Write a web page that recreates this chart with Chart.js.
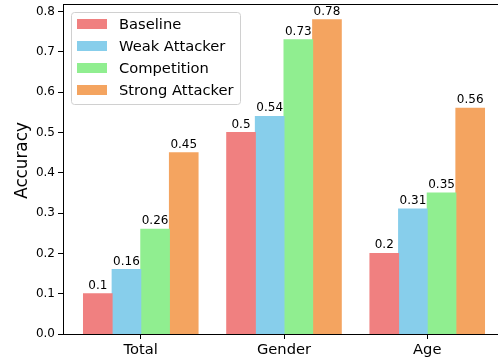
<!DOCTYPE html>
<html>
<head>
<meta charset="utf-8">
<script src="https://cdn.jsdelivr.net/npm/chart.js@4.4.1/dist/chart.umd.min.js"></script>
<style>
  html, body { margin: 0; padding: 0; background: #fff; }
  #wrap { width: 498px; height: 362px; overflow: hidden; position: relative; }
  #wrap canvas { display: block; }
</style>
</head>
<body>
<div id="wrap"><canvas id="c" width="506" height="362"></canvas></div>
<script>
// Accuracy per attribute group for each attack setting
const categories = ['Total', 'Gender', 'Age'];
const seriesNames = ['Baseline', 'Weak Attacker', 'Competition', 'Strong Attacker'];
const baseline = [0.1, 0.5, 0.2];
const weakAttacker = [0.16, 0.54, 0.31];
const competition = [0.26, 0.73, 0.35];
const strongAttacker = [0.45, 0.78, 0.56];
const yTicks = [0.0, 0.1, 0.2, 0.3, 0.4, 0.5, 0.6, 0.7, 0.8];
const seriesColors = ['#F08080', '#87CEEB', '#90EE90', '#F4A460'];

const FONT = "'DejaVu Sans', sans-serif";
const allSeries = [baseline, weakAttacker, competition, strongAttacker];

const datasets = allSeries.map((vals, i) => ({
  label: seriesNames[i],
  data: vals.map((v, k) => ({ x: k, y: v })),
  backgroundColor: seriesColors[i],
  borderWidth: 0,
  inflateAmount: 0.5,
  categoryPercentage: 0.8,
  barPercentage: 1.0
}));

// axes frame, value labels, legend and y title
const decorations = {
  id: 'decorations',
  afterDatasetsDraw(chart) {
    const ctx = chart.ctx;
    ctx.save();
    ctx.fillStyle = '#000';
    ctx.font = '12px ' + FONT;
    ctx.textAlign = 'center';
    ctx.textBaseline = 'alphabetic';
    chart.data.datasets.forEach((ds, di) => {
      const meta = chart.getDatasetMeta(di);
      meta.data.forEach((el, k) => {
        ctx.fillText(String(allSeries[di][k]), el.x, el.y - 5);
      });
    });
    ctx.restore();
  },
  afterDraw(chart) {
    const ctx = chart.ctx;
    const a = chart.chartArea;
    ctx.save();
    // frame
    ctx.strokeStyle = '#000';
    ctx.lineWidth = 1;
    ctx.strokeRect(Math.round(a.left) + 0.5, Math.round(a.top) + 0.5,
                   Math.round(a.right - a.left), Math.round(a.bottom - a.top));

    // legend
    const bx = 71.5, by = 12.5, bw = 169, bh = 92, r = 3;
    ctx.beginPath();
    ctx.moveTo(bx + r, by);
    ctx.lineTo(bx + bw - r, by);
    ctx.arcTo(bx + bw, by, bx + bw, by + r, r);
    ctx.lineTo(bx + bw, by + bh - r);
    ctx.arcTo(bx + bw, by + bh, bx + bw - r, by + bh, r);
    ctx.lineTo(bx + r, by + bh);
    ctx.arcTo(bx, by + bh, bx, by + bh - r, r);
    ctx.lineTo(bx, by + r);
    ctx.arcTo(bx, by, bx + r, by, r);
    ctx.closePath();
    ctx.fillStyle = 'rgba(255,255,255,0.8)';
    ctx.fill();
    ctx.strokeStyle = '#d0d0d0';
    ctx.stroke();

    ctx.font = '14.7px ' + FONT;
    ctx.textAlign = 'left';
    ctx.textBaseline = 'middle';
    seriesNames.forEach((name, i) => {
      const cy = 24 + i * 22;
      ctx.fillStyle = seriesColors[i];
      ctx.fillRect(77, cy - 5, 30, 10);
      ctx.fillStyle = '#000';
      ctx.fillText(name, 119, cy + 1);
    });

    // y axis title
    ctx.translate(26.5, 160.5);
    ctx.rotate(-Math.PI / 2);
    ctx.font = '16.8px ' + FONT;
    ctx.textAlign = 'center';
    ctx.textBaseline = 'alphabetic';
    ctx.fillStyle = '#000';
    ctx.fillText('Accuracy', 0, 0);
    ctx.restore();
  }
};

new Chart(document.getElementById('c'), {
  type: 'bar',
  data: { datasets },
  options: {
    responsive: false,
    animation: false,
    devicePixelRatio: 1,
    layout: { padding: { top: 4, right: 1, left: 0, bottom: 0 } },
    plugins: { legend: { display: false }, tooltip: { enabled: false } },
    scales: {
      x: {
        type: 'linear',
        min: -0.543,
        max: 2.543,
        offset: false,
        border: { display: false },
        grid: { offset: false, drawOnChartArea: false, drawTicks: true, tickLength: 5, color: '#000', tickWidth: 1 },
        ticks: {
          color: '#000',
          font: { family: FONT, size: 14.7 },
          padding: 2,
          maxRotation: 0,
          autoSkip: false,
          callback: (v) => categories[v] ?? ''
        },
        afterBuildTicks: (scale) => { scale.ticks = categories.map((_, i) => ({ value: i })); },
        afterFit: (scale) => {
          scale.height = 28;
          scale.paddingLeft = 0; scale.paddingRight = 0;
        }
      },
      y: {
        min: 0,
        max: 0.819,
        border: { display: false },
        grid: { drawOnChartArea: false, drawTicks: true, tickLength: 5, color: '#000', tickWidth: 1 },
        ticks: {
          color: '#000',
          font: { family: FONT, size: 12 },
          padding: 3,
          callback: (v) => Number(v).toFixed(1)
        },
        afterBuildTicks: (scale) => { scale.ticks = yTicks.map(v => ({ value: v })); },
        afterFit: (scale) => {
          scale.width = 63;
          scale.paddingTop = 0; scale.paddingBottom = 0;
        }
      }
    }
  },
  plugins: [decorations]
});
</script>
</body>
</html>
